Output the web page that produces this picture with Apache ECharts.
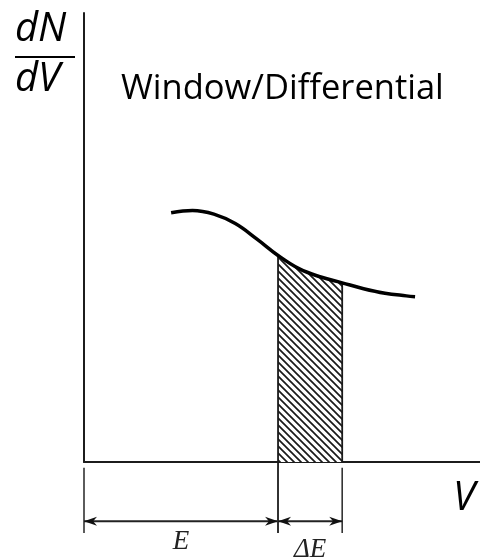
<!DOCTYPE html>
<html><head><meta charset="utf-8">
<script src="https://cdn.jsdelivr.net/npm/echarts@6/dist/echarts.min.js"></script>
<style>html,body{margin:0;padding:0;background:#fff}#c{width:480px;height:558px}</style>
</head><body><div id="c"></div>
<script>
// curve dN/dV vs V (arbitrary units, axes 0..100)
const curveX = [22.0, 27.4, 32.8, 38.2, 43.6, 49.0, 54.4, 59.8, 65.2, 70.6, 76.0, 81.4, 83.6];
const curveY = [55.5, 56.0, 55.2, 53.1, 49.7, 46.0, 43.0, 41.2, 39.9, 38.6, 37.6, 37.0, 36.8];
// energy window [E, E+ΔE]
const windowStart = 49.0;
const windowEnd = 65.2;
// dimension annotations below the V axis
const dimSpans = [[0, 49.0], [49.0, 65.2]];
const dimLabels = ['E', 'ΔE'];
const dimLevel = -13.2;
const extTop = -1.3, extBottom = -15.8;
const yLabel = ['dN', 'dV'];
const xLabel = 'V';
const titleText = 'Window/Differential';

function hatchPattern() {
  const s = 7;
  const c = document.createElement('canvas');
  c.width = s; c.height = s;
  const g = c.getContext('2d');
  g.fillStyle = '#fff'; g.fillRect(0, 0, s, s);
  g.strokeStyle = '#1a1a1a'; g.lineWidth = 1.7;
  g.beginPath();
  g.moveTo(-1, -1); g.lineTo(s + 1, s + 1);
  g.moveTo(-1, s - 1); g.lineTo(1, s + 1);
  g.moveTo(s - 1, -1); g.lineTo(s + 1, 1);
  g.stroke();
  return c;
}
const pattern = hatchPattern();

const chart = echarts.init(document.getElementById('c'), null, {renderer: 'canvas'});
const axisCommon = {
  type: 'value', min: 0, max: 100,
  axisLine: {show: true, onZero: false, lineStyle: {color: '#1c1c1c', width: 2}},
  axisTick: {show: false}, axisLabel: {show: false}, splitLine: {show: false}
};
const italicSans = {fontFamily: 'Open Sans', fontStyle: 'italic', fill: '#000'};
const option = {
  animation: false,
  backgroundColor: '#fff',
  title: {
    text: titleText, left: 121, top: 72, padding: 0,
    textStyle: {fontFamily: 'Open Sans', fontSize: 34.5, fontWeight: 'normal', color: '#000'}
  },
  grid: {left: 84, right: 0, top: 13, bottom: 96},
  xAxis: axisCommon,
  yAxis: axisCommon,
  graphic: [
    {type: 'text', left: 15, top: 10, style: Object.assign({text: yLabel[0], fontSize: 40}, italicSans)},
    {type: 'line', shape: {x1: 15, y1: 57, x2: 75, y2: 57}, style: {stroke: '#000', lineWidth: 2}},
    {type: 'text', left: 15, top: 60, style: Object.assign({text: yLabel[1], fontSize: 40}, italicSans)},
    {type: 'text', left: 453, top: 479, style: Object.assign({text: xLabel, fontSize: 40}, italicSans)}
  ],
  series: [
    {
      type: 'custom', name: 'window', clip: false, z: 1,
      data: [[windowStart, windowEnd]],
      encode: {x: [0, 1]},
      renderItem: function (params, api) {
        const a = api.value(0), b = api.value(1);
        const pts = [api.coord([a, 0])];
        let ya = 0, yb = 0;
        for (let i = 0; i < curveX.length; i++) {
          if (curveX[i] >= a - 1e-6 && curveX[i] <= b + 1e-6) {
            pts.push(api.coord([curveX[i], curveY[i]]));
            if (Math.abs(curveX[i] - a) < 1e-6) ya = curveY[i];
            if (Math.abs(curveX[i] - b) < 1e-6) yb = curveY[i];
          }
        }
        pts.push(api.coord([b, 0]));
        const la = api.coord([a, ya]), lb = api.coord([a, extBottom]);
        const ra = api.coord([b, yb]), rb = api.coord([b, 0]);
        return {
          type: 'group', children: [
            {type: 'polygon', shape: {points: pts}, style: {fill: {image: pattern, repeat: 'repeat'}, stroke: null}},
            {type: 'line', shape: {x1: la[0], y1: la[1], x2: lb[0], y2: lb[1]}, style: {stroke: '#1a1a1a', lineWidth: 1.8}},
            {type: 'line', shape: {x1: ra[0], y1: ra[1], x2: rb[0], y2: rb[1]}, style: {stroke: '#1a1a1a', lineWidth: 1.8}}
          ]
        };
      }
    },
    {
      type: 'custom', name: 'dimensions', clip: false, z: 2,
      data: dimSpans,
      encode: {x: [0, 1]},
      renderItem: function (params, api) {
        const a = api.value(0), b = api.value(1);
        const p1 = api.coord([a, dimLevel]), p2 = api.coord([b, dimLevel]);
        const t1 = api.coord([a, extTop]), b1 = api.coord([a, extBottom]);
        const t2 = api.coord([b, extTop]), b2 = api.coord([b, extBottom]);
        const lab = api.coord([(a + b) / 2, extBottom]);
        const L = 13, w = 4.5, y = p1[1];
        const dy = params.dataIndex === 0 ? -5 : 3;
        const kids = [
          {type: 'line', shape: {x1: t1[0], y1: t1[1], x2: b1[0], y2: b1[1]}, style: {stroke: '#333', lineWidth: 1.6}},
          {type: 'line', shape: {x1: t2[0], y1: t2[1], x2: b2[0], y2: b2[1]}, style: {stroke: '#333', lineWidth: 1.6}},
          {type: 'line', shape: {x1: p1[0], y1: y, x2: p2[0], y2: y}, style: {stroke: '#222', lineWidth: 2.2}},
          {type: 'polygon', shape: {points: [[p1[0], y], [p1[0] + L, y - w], [p1[0] + L * 0.7, y], [p1[0] + L, y + w]]}, style: {fill: '#111'}},
          {type: 'polygon', shape: {points: [[p2[0], y], [p2[0] - L, y - w], [p2[0] - L * 0.7, y], [p2[0] - L, y + w]]}, style: {fill: '#111'}},
          {type: 'text', style: {text: dimLabels[params.dataIndex], x: lab[0], y: lab[1] + dy, align: 'center', verticalAlign: 'top',
            fontFamily: 'Liberation Serif', fontStyle: 'italic', fontSize: 27, fill: '#222'}}
        ];
        return {type: 'group', children: kids};
      }
    },
    {
      type: 'line', name: 'dN/dV', z: 3,
      data: curveX.map((x, i) => [x, curveY[i]]),
      smooth: 0.4, showSymbol: false,
      lineStyle: {color: '#000', width: 3.5}
    }
  ]
};
chart.setOption(option);
</script>
</body></html>
